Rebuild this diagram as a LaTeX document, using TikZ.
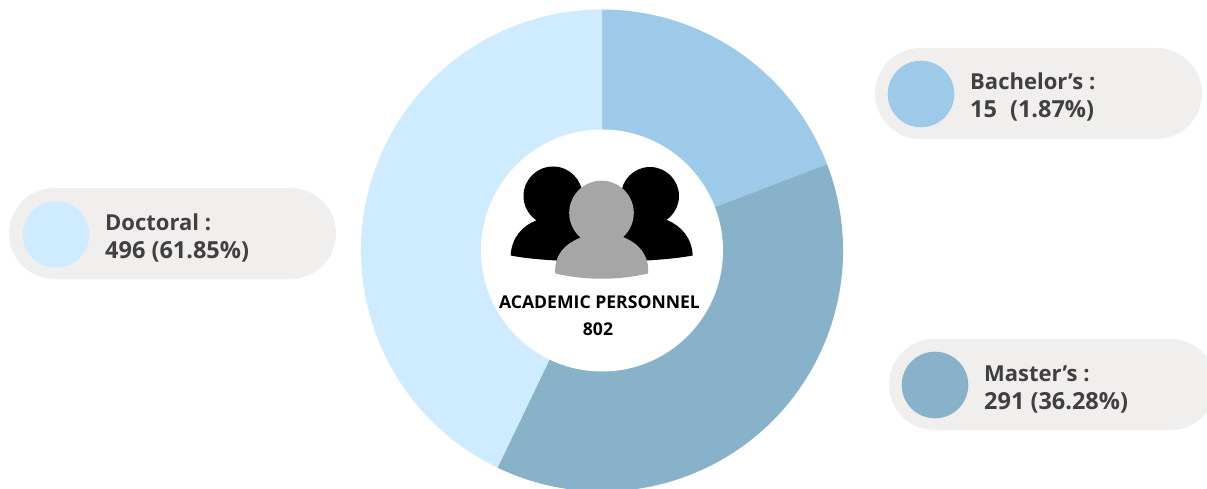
\documentclass[tikz,border=0pt]{standalone}
\usepackage{fontspec}
\setmainfont{Open Sans}
\definecolor{bach}{HTML}{9DCAE8}
\definecolor{mast}{HTML}{88B2CA}
\definecolor{doct}{HTML}{CFEBFF}
\definecolor{pill}{HTML}{F0EFEE}
\definecolor{grayp}{HTML}{A6A6A6}
\definecolor{lab}{HTML}{404040}
\tikzset{
  labeltext/.style={anchor=base west,inner sep=0pt,text=lab,font=\fontsize{22}{26}\selectfont\bfseries},
  valuetext/.style={anchor=base west,inner sep=0pt,text=lab,font=\fontsize{23.5}{26}\selectfont\bfseries},
  centertext/.style={anchor=base,inner sep=0pt,text=black,font=\fontsize{17.6}{20}\selectfont\bfseries},
  pillbox/.style={fill=pill,rounded corners=45.5pt},
}
\begin{document}
\begin{tikzpicture}[x=1pt,y=-1pt]
\useasboundingbox (0,0) rectangle (1207,489);
\clip (0,0) rectangle (1207,489);
\fill[white] (0,0) rectangle (1207,489);
% donut
\begin{scope}[shift={(602,250.5)},y=1pt]
\fill[bach] (0,0) -- (90:241) arc[start angle=90,end angle=21,radius=241] -- cycle;
\fill[mast] (0,0) -- (21:241) arc[start angle=21,end angle=-115.7,radius=241] -- cycle;
\fill[doct] (0,0) -- (-115.7:241) arc[start angle=-115.7,end angle=-270,radius=241] -- cycle;
\fill[white] (0,0) circle[radius=121];
\end{scope}
% people
\fill[black] (553,196) circle[radius=29.5];
\fill[black] (650,196) circle[radius=29];
\fill[black] (510.7,255.5) .. controls (511.5,238) and (522,226) .. (536,220.5) -- (560,205) -- (590,230) -- (590,262) .. controls (560,261) and (530,259.5) .. (510.7,255.5) -- cycle;
\fill[black] (692.7,255.5) .. controls (692,238) and (681,226) .. (668,220.5) -- (640,205) -- (612,230) -- (612,262) .. controls (642,261) and (672,259.5) .. (692.7,255.5) -- cycle;
\fill[grayp] (601.5,213) circle[radius=32.3];
\fill[grayp] (555.3,273.5) .. controls (554,256) and (563,245) .. (580.5,237.5) -- (623,237) .. controls (640,244) and (649.5,256) .. (648,273.5) .. controls (618,280.5) and (585,280.5) .. (555.3,273.5) -- cycle;
\node[centertext] (title) at (599.5,308.5) {ACADEMIC PERSONNEL};
\node[centertext] (total) at (598,335) {802};
% legends
\fill[pillbox] (9,188) rectangle (336,279);
\fill[doct] (56,234.5) circle[radius=33.3];
\node[labeltext] (d1) at (105,230) {Doctoral :};
\node[valuetext] (d2) at (105,258) {496 (61.85\%)};
\fill[pillbox] (875,48) rectangle (1202,139);
\fill[bach] (921,94) circle[radius=33.3];
\node[labeltext] (b1) at (970,90) {Bachelor’s :};
\node[valuetext] (b2) at (970,118) {15\hspace{13pt}(1.87\%)};
\fill[pillbox] (889,339) rectangle (1216,430);
\fill[mast] (935,385) circle[radius=33.3];
\node[labeltext] (m1) at (984,381) {Master’s :};
\node[valuetext] (m2) at (984,409) {291 (36.28\%)};
\end{tikzpicture}
\end{document}
